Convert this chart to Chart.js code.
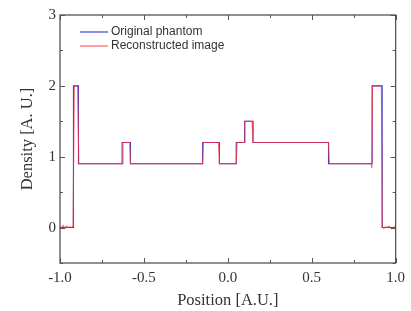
<!DOCTYPE html>
<html>
<head>
<meta charset="utf-8">
<script src="https://cdn.jsdelivr.net/npm/chart.js@4/dist/chart.umd.min.js"></script>
<style>
  html, body { margin: 0; padding: 0; background: #fff; }
  #wrap { width: 411px; height: 311px; }
</style>
</head>
<body>
<div id="wrap"><canvas id="profileChart"></canvas></div>
<script>
// Phantom: step edges and the level between each pair of edges
const phantomEdges = [-1, -0.92, -0.89, -0.63, -0.58, -0.15, -0.05, 0.05, 0.10, 0.15, 0.60, 0.86, 0.92, 1];
const phantomLevels = [0, 2, 0.9, 1.2, 0.9, 1.2, 0.9, 1.2, 1.5, 1.2, 0.9, 2, 0];

// Reconstructed profile
const reconX = [-1, -0.99, -0.98, -0.97, -0.96, -0.95, -0.94, -0.93,
  -0.922, -0.915, -0.895, -0.888, -0.63, -0.625, -0.585, -0.58,
  -0.15, -0.145, -0.055, -0.05, 0.05, 0.055, 0.098, 0.102,
  0.145, 0.15, 0.60, 0.605, 0.855, 0.858, 0.862, 0.915,
  0.92, 0.93, 0.94, 0.95, 0.96, 0.97, 0.98, 0.99, 1];
const reconY = [0.01, 0.0, 0.03, -0.01, 0.02, 0.0, 0.01, 0.0,
  0.02, 2.0, 2.0, 0.9, 0.9, 1.2, 1.2, 0.9,
  0.9, 1.2, 1.2, 0.9, 0.9, 1.2, 1.2, 1.5,
  1.5, 1.2, 1.2, 0.9, 0.9, 0.84, 2.0, 2.0,
  0.01, -0.01, 0.01, 0.0, 0.02, 0.0, -0.01, 0.01, 0.0];

const xTicks = [-1, -0.5, 0, 0.5, 1];
const yTicks = [0, 1, 2, 3];

// build step points from edges/levels
const phantomPts = [];
phantomLevels.forEach((lv, i) => {
  phantomPts.push({ x: phantomEdges[i], y: lv });
  phantomPts.push({ x: phantomEdges[i + 1], y: lv });
});
const reconPts = reconX.map((x, i) => ({ x: x, y: reconY[i] }));

const serif = '"Liberation Serif", "Times New Roman", serif';
const sans = '"Liberation Sans", Arial, sans-serif';

// frame, inward ticks and legend inside the plot
const framePlugin = {
  id: 'frame',
  afterDraw(chart) {
    const c = chart.ctx, a = chart.chartArea;
    const xs = chart.scales.x, ys = chart.scales.y;
    c.save();
    c.strokeStyle = '#555';
    c.lineWidth = 1.3;
    c.strokeRect(a.left, a.top, a.right - a.left, a.bottom - a.top);
    c.lineWidth = 1;
    for (let v = -1; v <= 1.001; v += 0.25) {
      const px = Math.round(xs.getPixelForValue(v)) + 0.5;
      const len = Math.abs(v * 2 - Math.round(v * 2)) < 0.01 ? 5 : 3;
      c.beginPath();
      c.moveTo(px, a.bottom); c.lineTo(px, a.bottom - len);
      c.moveTo(px, a.top); c.lineTo(px, a.top + len);
      c.stroke();
    }
    for (let v = -0.5; v <= 3.001; v += 0.5) {
      const py = Math.round(ys.getPixelForValue(v)) + 0.5;
      const len = Math.abs(v - Math.round(v)) < 0.01 ? 5 : 3;
      c.beginPath();
      c.moveTo(a.left, py); c.lineTo(a.left + len, py);
      c.moveTo(a.right, py); c.lineTo(a.right - len, py);
      c.stroke();
    }
    // legend
    c.font = '12px ' + sans;
    c.textBaseline = 'middle';
    chart.data.datasets.forEach((ds, i) => {
      const y = 32 + i * 14;
      c.strokeStyle = ds.borderColor;
      c.lineWidth = 1.2;
      c.beginPath(); c.moveTo(80, y); c.lineTo(108, y); c.stroke();
      c.fillStyle = '#333';
      c.fillText(ds.label, 111, y);
    });
    c.restore();
  }
};

new Chart(document.getElementById('profileChart'), {
  type: 'line',
  data: {
    datasets: [
      { label: 'Original phantom', data: phantomPts, borderColor: '#4040d0', borderWidth: 1.1, pointRadius: 0, tension: 0, order: 2 },
      { label: 'Reconstructed image', data: reconPts, borderColor: 'rgba(255,40,50,0.75)', borderWidth: 1.1, pointRadius: 0, tension: 0, order: 1 }
    ]
  },
  options: {
    responsive: true,
    maintainAspectRatio: false,
    animation: false,
    layout: { padding: { top: 15, right: 11, left: 18, bottom: 0 } },
    plugins: { legend: { display: false }, tooltip: { enabled: false } },
    scales: {
      x: {
        type: 'linear', min: -1, max: 1,
        afterBuildTicks: s => { s.ticks = xTicks.map(v => ({ value: v })); },
        afterFit: s => { s.height = 48; },
        grid: { display: false, drawTicks: false },
        border: { display: false },
        ticks: { color: '#333', padding: 6, font: { family: serif, size: 15 }, callback: v => v.toFixed(1) },
        title: { display: true, text: 'Position [A.U.]', color: '#333', padding: { top: 1, bottom: 0 }, font: { family: serif, size: 16.5 } }
      },
      y: {
        min: -0.5, max: 3,
        afterBuildTicks: s => { s.ticks = yTicks.map(v => ({ value: v })); },
        afterFit: s => { s.width = 42; },
        grid: { display: false, drawTicks: false },
        border: { display: false },
        ticks: { color: '#333', padding: 4, font: { family: serif, size: 15 } },
        title: { display: true, text: 'Density [A. U.]', color: '#333', padding: { top: 0, bottom: 0 }, font: { family: serif, size: 16.5 } }
      }
    }
  },
  plugins: [framePlugin]
});
</script>
</body>
</html>
